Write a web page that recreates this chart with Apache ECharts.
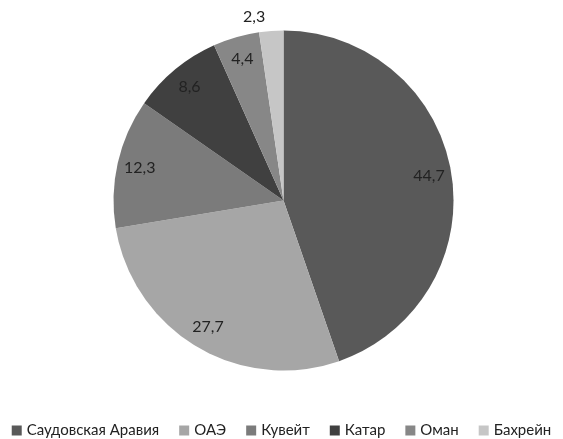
<!DOCTYPE html>
<html><head><meta charset="utf-8">
<script src="https://cdn.jsdelivr.net/npm/echarts@6/dist/echarts.min.js"></script>
<style>html,body{margin:0;padding:0;background:#fff}#c{width:563px;height:439px}</style>
</head><body><div id="c"></div>
<script>
const categories = ['Саудовская Аравия', 'ОАЭ', 'Кувейт', 'Катар', 'Оман', 'Бахрейн'];
const values = [44.7, 27.7, 12.3, 8.6, 4.4, 2.3];
const colors = ['#595959', '#a6a6a6', '#7b7b7b', '#404040', '#878787', '#c6c6c6'];
const outsideLabels = ['Бахрейн'];

const fmt = v => String(v).replace('.', ',');
const chart = echarts.init(document.getElementById('c'));
const R = 170;
const center = ['50.36%', '45.67%'];
const labelFont = { fontFamily: 'Lato', fontSize: 16, color: '#222' };
chart.setOption({
  animation: false,
  legend: {
    top: 418, left: 'center', itemWidth: 10, itemHeight: 10, itemGap: 20,
    icon: 'rect',
    textStyle: { fontFamily: 'Lato', fontSize: 15, color: '#222' },
    data: categories
  },
  series: [
    {
      type: 'pie', radius: [0, R], center, startAngle: 90, clockwise: true,
      label: { show: false },
      labelLine: { show: false },
      silent: true,
      data: categories.map((c, i) => ({
        name: c, value: values[i], itemStyle: { color: colors[i] },
        label: outsideLabels.includes(c) ? Object.assign({
          show: true, position: 'outside', formatter: fmt(values[i])
        }, labelFont) : { show: false },
        labelLine: { show: false, length: 14, length2: 0 }
      }))
    },
    {
      type: 'pie', radius: [0, R * 1.7], center, startAngle: 90, clockwise: true,
      silent: true, legendHoverLink: false,
      itemStyle: { color: 'rgba(0,0,0,0)' },
      label: Object.assign({ show: true, position: 'inside', formatter: p => fmt(p.value) }, labelFont),
      data: categories.map((c, i) => ({
        name: c + ' ', value: values[i],
        label: { show: !outsideLabels.includes(c) }
      }))
    }
  ]
});
</script></body></html>
